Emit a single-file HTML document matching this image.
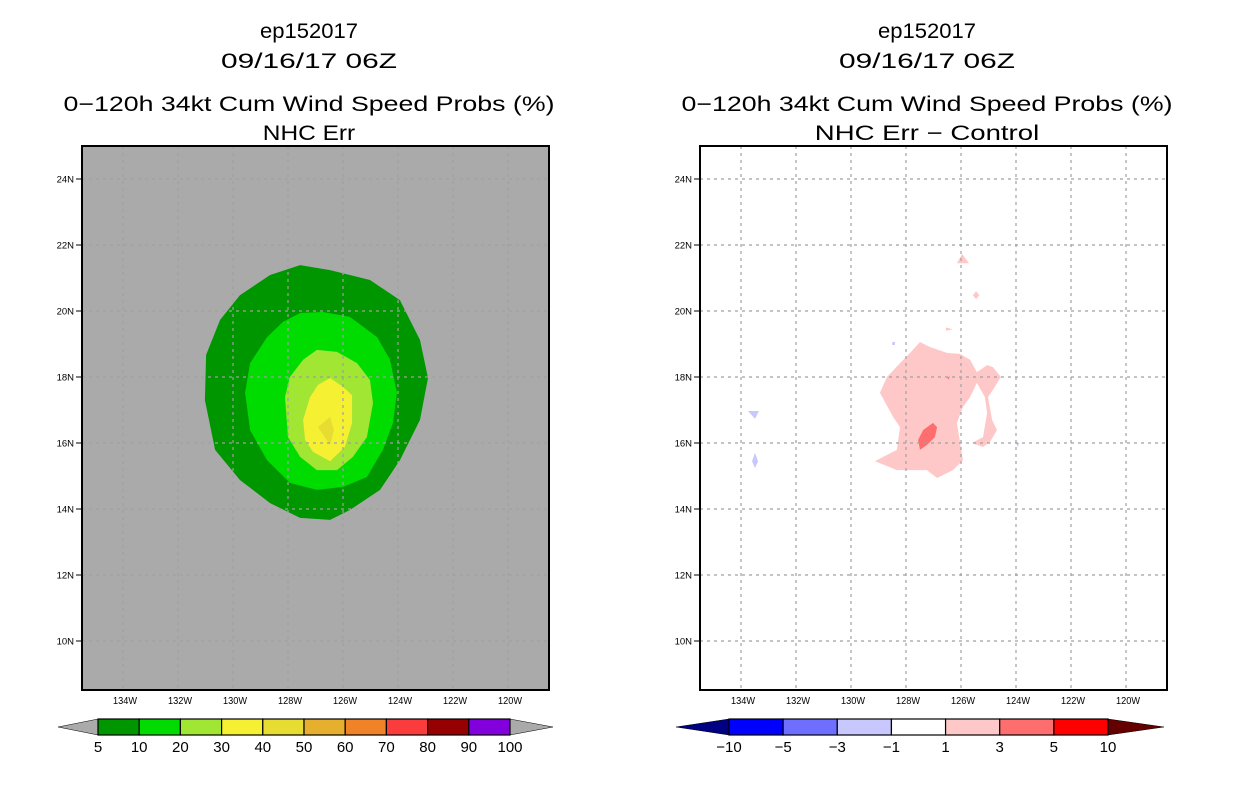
<!DOCTYPE html>
<html><head><meta charset="utf-8"><style>
html,body{margin:0;padding:0;background:#fff;}
svg{display:block;font-family:"Liberation Sans",sans-serif;}
</style></head><body>
<svg id="chart" width="1236" height="800" viewBox="0 0 1236 800" xmlns="http://www.w3.org/2000/svg">
<g id="titles"></g>
<g id="left"></g>
<g id="right"></g>
</svg>
<script>
const NS='http://www.w3.org/2000/svg';
const lonTicks=[134,132,130,128,126,124,122,120];
const latTicks=[24,22,20,18,16,14,12,10];
const leftLevels=['5','10','20','30','40','50','60','70','80','90','100'];
const leftColors=['#009600','#00dc00','#a0e632','#f5f032','#e6dc32','#e6af2d','#f08228','#fa3c3c','#960000','#8200dc'];
const rightLevels=['-10','-5','-3','-1','1','3','5','10'];
const rightColors=['#0000ff','#6e6eff','#c8c8ff','#ffffff','#ffc8c8','#ff6e6e','#ff0000'];
const prob5=[[127.56,21.39],[126.47,21.24],[125.02,20.94],[123.93,20.33],[123.2,19.12],[122.91,17.97],[123.2,16.7],[123.93,15.48],[124.65,14.58],[125.75,13.97],[126.47,13.67],[127.56,13.73],[128.65,14.18],[129.75,14.88],[130.65,15.79],[131.02,17.3],[130.98,18.67],[130.47,19.73],[129.75,20.48],[128.65,21.09]];
const prob10=[[127.56,19.94],[126.73,19.97],[125.75,19.82],[124.76,19.21],[124.29,18.52],[124.04,17.52],[124.18,16.61],[124.55,15.79],[125.13,14.97],[126.0,14.67],[126.95,14.58],[127.93,14.79],[128.76,15.48],[129.38,16.39],[129.56,17.52],[129.38,18.42],[128.76,19.21],[128.18,19.67]];
const prob20=[[126.95,18.82],[126.22,18.76],[125.49,18.42],[125.02,17.91],[124.91,17.21],[125.13,16.18],[125.64,15.58],[126.22,15.18],[126.95,15.18],[127.56,15.58],[128.0,16.18],[128.11,17.39],[127.93,18.0],[127.45,18.52]];
const prob30=[[126.47,17.97],[126.0,17.7],[125.67,17.45],[125.67,16.61],[125.93,15.88],[126.47,15.45],[127.09,15.73],[127.38,16.09],[127.45,16.7],[127.2,17.39],[126.91,17.76]];
const prob40=[[126.47,16.79],[126.33,16.39],[126.47,15.94],[126.91,16.48]];
const diffPos1=[[127.49,19.06],[127.13,18.91],[126.51,18.73],[126.04,18.7],[125.67,18.52],[125.42,18.15],[125.05,18.36],[124.84,18.3],[124.55,18.0],[124.84,17.61],[125.02,17.39],[124.87,16.7],[124.69,16.39],[124.95,16.03],[125.2,15.88],[125.6,16.0],[125.2,16.18],[125.05,16.91],[125.13,17.39],[125.42,17.82],[125.67,17.39],[125.93,17.09],[126.15,16.61],[125.93,15.48],[126.29,15.18],[126.87,14.94],[127.24,15.18],[128.33,15.18],[129.13,15.45],[128.69,15.64],[128.33,15.79],[128.22,16.48],[128.47,16.79],[128.95,17.52],[128.69,18.0],[128.22,18.42],[127.85,18.73]];
const diffPos2=[[125.96,21.73],[126.15,21.45],[125.71,21.45]];
const diffPos3=[[125.45,20.6],[125.33,20.48],[125.45,20.36],[125.57,20.48]];
const diffPos4=[[126.55,19.5],[126.3,19.45],[126.55,19.4]];
const diffPos5=[[127.56,16.09],[127.38,16.39],[127.02,16.61],[126.87,16.48],[126.95,16.18],[127.24,15.94],[127.49,15.79]];
const diffPosRed=[[126.5,17.97],[126.4,18.03],[126.45,17.92]];
const diffNeg1=[[133.75,16.97],[133.35,16.97],[133.49,16.73]];
const diffNeg2=[[133.49,15.7],[133.38,15.45],[133.49,15.24],[133.6,15.45]];
const diffNeg3=[[128.5,19.06],[128.4,19.06],[128.4,18.97],[128.5,18.97]];
const diffNeg4=[[124.0,16.0],[123.88,16.0],[123.94,15.88]];

function el(p,tag,attrs,txt){const e=document.createElementNS(NS,tag);for(const k in attrs)e.setAttribute(k,attrs[k]);if(txt!==undefined)e.textContent=txt;p.appendChild(e);return e;}
function xS(off){return lon=>off+233-(lon-130)*27.5;}
function yS(lat){return 377-(lat-18)*33;}
function poly(g,pts,xs,fill,name){const p=el(g,'polygon',{points:pts.map(q=>xs(q[0]).toFixed(1)+','+yS(q[1]).toFixed(1)).join(' '),fill:fill});

}

const T=document.getElementById('titles');
function titles(cx,sub){
 const a=el(T,'text',{x:cx,y:38,'text-anchor':'middle','font-size':21,textLength:98,lengthAdjust:'spacingAndGlyphs'},'ep152017');
 
 const b=el(T,'text',{x:cx,y:68,'text-anchor':'middle','font-size':21,textLength:176,lengthAdjust:'spacingAndGlyphs'},'09/16/17 06Z');
 
 const c=el(T,'text',{x:cx,y:111,'text-anchor':'middle','font-size':21,textLength:491,lengthAdjust:'spacingAndGlyphs'},'0\u2212120h 34kt Cum Wind Speed Probs (%)');
 
 const d=el(T,'text',{x:cx,y:140,'text-anchor':'middle','font-size':21,textLength:sub.length*13.2,lengthAdjust:'spacingAndGlyphs'},sub);
 
}
titles(309,'NHC Err');
titles(927,'NHC Err \u2212 Control');

function panel(g,off,bg,fills){
 const xs=xS(off);
 const r=el(g,'rect',{x:off+82,y:146,width:467,height:544,fill:bg});
 
 fills(g,xs);
 lonTicks.forEach(l=>{const x=xs(l);
  const ln=el(g,'line',{x1:x,y1:146,x2:x,y2:690,stroke:'#a0a0a0','stroke-width':1.2,'stroke-dasharray':'3,4'});
  
  const t=el(g,'text',{x:x+2,y:704,'text-anchor':'middle','font-size':10,textLength:24,lengthAdjust:'spacingAndGlyphs'},l+'W');
  });
 latTicks.forEach(l=>{const y=yS(l);
  const ln=el(g,'line',{x1:off+82,y1:y,x2:off+549,y2:y,stroke:'#a0a0a0','stroke-width':1.2,'stroke-dasharray':'3,4'});
  
  const tk=el(g,'line',{x1:off+76,y1:y,x2:off+82,y2:y,stroke:'#000'});
  
  const t=el(g,'text',{x:off+74,y:y+3.5,'text-anchor':'end','font-size':9.5},l+'N');
  });
 const f=el(g,'rect',{x:off+82,y:146,width:467,height:544,fill:'none',stroke:'#000','stroke-width':2});
 
}
const L=document.getElementById('left'),R=document.getElementById('right');
panel(L,0,'#aaaaaa',(g,xs)=>{
 poly(g,prob5,xs,leftColors[0],'prob-5-contour');
 poly(g,prob10,xs,leftColors[1],'prob-10-contour');
 poly(g,prob20,xs,leftColors[2],'prob-20-contour');
 poly(g,prob30,xs,leftColors[3],'prob-30-contour');
 poly(g,prob40,xs,leftColors[4],'prob-40-contour');
});
panel(R,618,'#ffffff',(g,xs)=>{
 [diffPos1,diffPos2,diffPos3,diffPos4].forEach(p=>poly(g,p,xs,rightColors[4],'diff-1-3-area'));
 poly(g,diffPos5,xs,rightColors[5],'diff-3-5-area');
 poly(g,diffPosRed,xs,rightColors[5],'diff-3-5-area');
 [diffNeg1,diffNeg2,diffNeg3,diffNeg4].forEach(p=>poly(g,p,xs,rightColors[2],'diff-neg-area'));
});

function colorbar(g,x0,x1,tipL,tipR,colors,labels,leftTip,rightTip,name){
 const cb=el(g,'g',{});
 
 const y0=719,y1=735,ym=727,w=(x1-x0)/colors.length;
 const a=el(cb,'polygon',{points:`${x0},${y0} ${tipL},${ym} ${x0},${y1}`,fill:leftTip,stroke:'#000','stroke-width':0.5});
 
 const b=el(cb,'polygon',{points:`${x1},${y0} ${tipR},${ym} ${x1},${y1}`,fill:rightTip,stroke:'#000','stroke-width':0.5});
 
 colors.forEach((c,i)=>{const r=el(cb,'rect',{x:x0+i*w,y:y0,width:w,height:y1-y0,fill:c,stroke:'#000','stroke-width':1.2});
  });
 labels.forEach((s,i)=>{const t=el(cb,'text',{x:x0+i*w,y:752,'text-anchor':'middle','font-size':15},s.replace('-','\u2212'));
  });
}
colorbar(L,98,510,58,553,leftColors,leftLevels,'#aaaaaa','#aaaaaa','left-colorbar');
colorbar(R,729,1108,676,1164,rightColors,rightLevels,'#000082','#640000','right-colorbar');
</script>
</body></html>
